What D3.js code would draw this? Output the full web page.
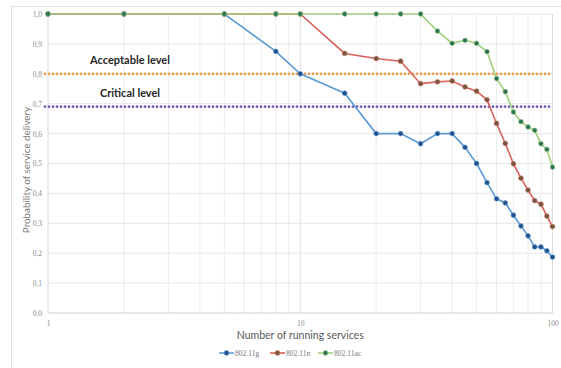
<!DOCTYPE html>
<html>
<head>
<meta charset="utf-8">
<script src="https://cdn.jsdelivr.net/npm/d3@7"></script>
<style>
  html, body { margin: 0; padding: 0; background: #fff; }
  svg { display: block; }
</style>
</head>
<body>
<svg id="chart" width="561" height="368"></svg>
<script>
// Number of running services (log axis)
const services = [1, 2, 5, 8, 10, 15, 20, 25, 30, 35, 40, 45, 50, 55, 60, 65, 70, 75, 80, 85, 90, 95, 100];
// Probability of service delivery per standard
const g80211 = [1, 1, 1, 0.875, 0.8, 0.735, 0.6, 0.6, 0.566, 0.6, 0.6, 0.554, 0.5, 0.436, 0.382, 0.368, 0.327, 0.291, 0.258, 0.221, 0.221, 0.208, 0.187];
const n80211 = [1, 1, 1, 1, 1, 0.868, 0.851, 0.842, 0.767, 0.773, 0.776, 0.756, 0.742, 0.713, 0.634, 0.567, 0.499, 0.451, 0.411, 0.376, 0.364, 0.324, 0.289];
const ac80211 = [1, 1, 1, 1, 1, 1, 1, 1, 1, 0.943, 0.902, 0.912, 0.902, 0.874, 0.784, 0.740, 0.672, 0.640, 0.622, 0.611, 0.566, 0.547, 0.488];
const seriesNames = ["802.11g", "802.11n", "802.11ac"];
// Threshold levels
const levelNames = ["Acceptable level", "Critical level"];
const levelValues = [0.8, 0.69];
const yTicks = [0, 0.1, 0.2, 0.3, 0.4, 0.5, 0.6, 0.7, 0.8, 0.9, 1.0];
const xTicks = [1, 10, 100];

const seriesData = [g80211, n80211, ac80211];
const lineColors = ["#5b9bd5", "#d9625c", "#9fd07e"];
const markerColors = ["#234f8c", "#6e5a3c", "#2a7258"];
const levelColors = ["#f39a4c", "#7a5fb0"];

const svg = d3.select("#chart");
const W = 561, H = 368;

// outer chart frame
svg.append("rect").attr("x", 11.5).attr("y", 6.5).attr("width", W).attr("height", H)
  .attr("fill", "none").attr("stroke", "#e3e3e3");

const x = d3.scaleLog().domain([1, 100]).range([48, 552.5]);
const y = d3.scaleLinear().domain([0, 1]).range([313, 14]);

// vertical gridlines at every log minor step
const vGrid = [];
for (let d = 1; d < 100; d *= 10) for (let k = 1; k <= 9; k++) vGrid.push(d * k);
vGrid.push(100);
svg.append("g").selectAll("line").data(vGrid).join("line")
  .attr("x1", d => x(d)).attr("x2", d => x(d))
  .attr("y1", y(0)).attr("y2", y(1))
  .attr("stroke", d => (d === 1 || d === 10 || d === 100) ? "#dcdcdc" : "#ededed")
  .attr("stroke-width", 1);

// horizontal gridlines
svg.append("g").selectAll("line").data(yTicks).join("line")
  .attr("x1", x(1)).attr("x2", x(100))
  .attr("y1", d => y(d)).attr("y2", d => y(d))
  .attr("stroke", d => d === 0 ? "#d0d0d0" : "#e6e6e6")
  .attr("stroke-width", 1);

// y tick labels
const yAxis = d3.axisLeft(y).tickValues(yTicks).tickSize(0).tickPadding(6)
  .tickFormat(d => d3.format(".1f")(d).replace(".", ","));
const yg = svg.append("g").attr("transform", `translate(${x(1)},0)`).call(yAxis);
yg.select(".domain").remove();
yg.selectAll("text").attr("font-family", "Liberation Serif, serif").attr("font-size", 7.5).attr("fill", "#8a8a8a");

// x tick labels
const xAxis = d3.axisBottom(x).tickValues(xTicks).tickSize(0).tickPadding(8).tickFormat(d3.format("d"));
const xg = svg.append("g").attr("transform", `translate(0,${y(0)})`).call(xAxis);
xg.select(".domain").remove();
xg.selectAll("text").attr("font-family", "Liberation Serif, serif").attr("font-size", 7.5).attr("fill", "#8a8a8a");

// axis titles
svg.append("text").attr("x", (x(1) + x(100)) / 2).attr("y", 339)
  .attr("text-anchor", "middle").attr("font-family", "Lato, sans-serif").attr("font-size", 10.5)
  .attr("fill", "#595959").text("Number of running services");
svg.append("text").attr("transform", `translate(30,170) rotate(-90)`)
  .attr("text-anchor", "middle").attr("font-family", "Lato, sans-serif").attr("font-size", 9.8)
  .attr("fill", "#7a7a7a").text("Probability of service delivery");

// threshold dotted lines with labels
levelValues.forEach((v, i) => {
  svg.append("line").attr("x1", x(1) - 3).attr("x2", x(100) - 1)
    .attr("y1", y(v)).attr("y2", y(v))
    .attr("stroke", levelColors[i]).attr("stroke-width", 2.8)
    .attr("stroke-linecap", "round").attr("stroke-dasharray", "0 4");
  svg.append("text").attr("x", 130).attr("y", y(v) - 10)
    .attr("text-anchor", "middle").attr("font-family", "Lato, sans-serif")
    .attr("font-weight", "bold").attr("font-size", 11).attr("fill", "#262626")
    .text(levelNames[i]);
});

// series lines and markers
const line = d3.line().x((d, i) => x(services[i])).y(d => y(d));
seriesData.forEach((vals, s) => {
  const gS = svg.append("g");
  gS.append("path").datum(vals).attr("d", line)
    .attr("fill", "none").attr("stroke", lineColors[s]).attr("stroke-width", 1.6);
  gS.selectAll("circle").data(vals).join("circle")
    .attr("cx", (d, i) => x(services[i])).attr("cy", d => y(d)).attr("r", 2.4)
    .attr("fill", markerColors[s]).attr("stroke", lineColors[s]).attr("stroke-width", 0.6);
});

// legend
const legendX = [219, 270, 318];
const legendY = 353;
seriesNames.forEach((name, s) => {
  const lg = svg.append("g").attr("transform", `translate(${legendX[s]},${legendY})`);
  lg.append("line").attr("x1", 0).attr("x2", 15).attr("y1", 0).attr("y2", 0)
    .attr("stroke", lineColors[s]).attr("stroke-width", 1.6);
  lg.append("circle").attr("cx", 7.5).attr("cy", 0).attr("r", 2.4)
    .attr("fill", markerColors[s]).attr("stroke", lineColors[s]).attr("stroke-width", 0.6);
  lg.append("text").attr("x", 16).attr("y", 2.6).attr("font-family", "Liberation Serif, serif")
    .attr("font-size", 7.6).attr("fill", "#7a7a7a").text(name);
});
</script>
</body>
</html>
